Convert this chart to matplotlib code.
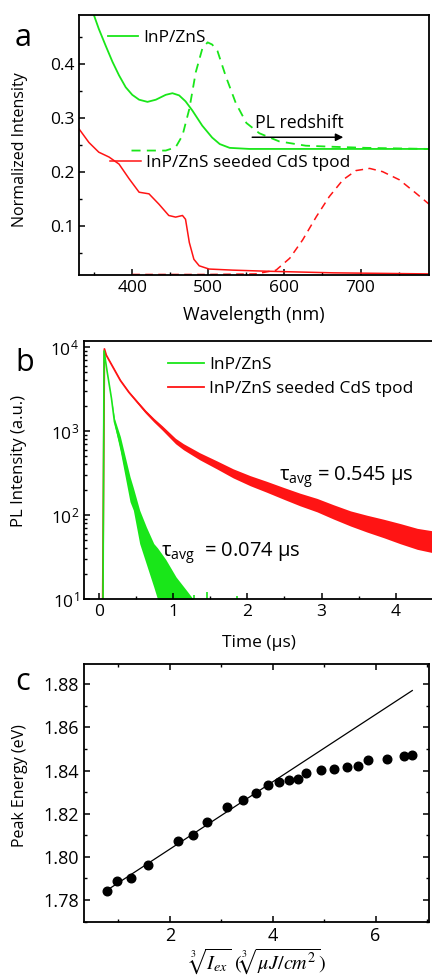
import numpy as np
import matplotlib
matplotlib.use('Agg')
import matplotlib.pyplot as plt
from matplotlib.ticker import MultipleLocator, LogLocator, NullFormatter, FormatStrFormatter
from matplotlib.lines import Line2D

plt.rcParams['font.family'] = ['Open Sans', 'DejaVu Sans']
plt.rcParams['axes.linewidth'] = 1.3
plt.rcParams['xtick.direction'] = 'in'
plt.rcParams['ytick.direction'] = 'in'

GREEN = '#19e619'
RED = '#ff1414'
MU = '\u03bc'

# ---- panel a: absorption (solid) and PL (dashed) ----
abs_g_wl = [349.7, 356, 365, 374, 382.6, 391.4, 400, 409, 420, 431, 444, 452.8, 461.6, 470, 479,
            492, 505, 515, 528, 554, 650, 790]
abs_g_y = [0.49, 0.465, 0.434, 0.404, 0.379, 0.357, 0.343, 0.334, 0.330, 0.334, 0.343, 0.346,
           0.342, 0.331, 0.314, 0.286, 0.264, 0.252, 0.245, 0.243, 0.243, 0.243]
pl_g_wl = [399, 444, 457, 466, 475, 483.5, 492, 499, 505, 512, 523, 536, 550, 567, 593, 628, 664, 707, 790]
pl_g_y = [0.240, 0.240, 0.246, 0.268, 0.317, 0.385, 0.428, 0.440, 0.436, 0.424, 0.377, 0.328,
          0.291, 0.272, 0.257, 0.249, 0.247, 0.245, 0.243]

abs_r_wl = [329, 343, 356, 369.5, 382.6, 395.8, 409, 422, 435, 448, 457, 466, 470, 475, 481, 488,
            501, 532, 576, 664, 790]
abs_r_y = [0.282, 0.255, 0.237, 0.228, 0.215, 0.188, 0.163, 0.160, 0.141, 0.120, 0.117, 0.120,
           0.113, 0.070, 0.039, 0.027, 0.021, 0.019, 0.017, 0.014, 0.012]
pl_r_wl = [400, 500, 562, 589, 607, 624, 642, 659, 677, 694, 712, 729, 751, 773, 790]
pl_r_y = [0.011, 0.011, 0.012, 0.019, 0.041, 0.075, 0.118, 0.155, 0.186, 0.203, 0.207, 0.201, 0.186, 0.161, 0.141]

# ---- panel b: PL decay, centre and spread of the noisy traces ----
red_t = [0.05, 0.075, 0.1, 0.179, 0.29, 0.404, 0.52, 0.629, 0.74, 0.853, 1.033, 1.14, 1.36, 1.59,
         1.81, 2.04, 2.26, 2.49, 2.71, 2.94, 3.16, 3.39, 3.61, 3.84, 4.06, 4.29, 4.5]
red_mid = [5, 9500, 8000, 6000, 4000, 2900, 2200, 1700, 1350, 1090, 760, 650, 500, 395, 313, 256,
           217, 181, 153, 131, 109, 91, 79, 69, 60, 52, 48]
red_spread = [0, 0, 0.004, 0.006, 0.008, 0.01, 0.014, 0.018, 0.022, 0.026, 0.032, 0.036, 0.042,
              0.048, 0.054, 0.06, 0.065, 0.07, 0.075, 0.08, 0.085, 0.09, 0.1, 0.11, 0.12, 0.125, 0.13]  # decades

green_t = [0.055, 0.07, 0.115, 0.17, 0.21, 0.29, 0.355, 0.42, 0.465, 0.55, 0.64, 0.74, 0.79, 0.9,
           1.04, 1.18, 1.27]
green_hi = [5, 9000, 4900, 2450, 1420, 859, 495, 286, 211, 114, 72, 45.7, 40.6, 29.7, 18.3, 12.7, 10]
green_lo = [5, 9000, 4900, 2450, 1180, 568, 286, 144, 114, 45.7, 26, 13.9, 10, 8, 8, 8, 8]
spike_t = [1.28, 1.455, 1.86]
spike_top = [11.2, 12, 11]

# ---- panel c: peak energy vs cube root of fluence ----
iex_cbrt = [0.774, 0.975, 1.248, 1.578, 2.149, 2.454, 2.713, 3.102, 3.42, 3.68, 3.907, 4.127,
            4.309, 4.484, 4.646, 4.938, 5.197, 5.437, 5.651, 5.859, 6.222, 6.553, 6.715]
peak_e = [1.7842, 1.7888, 1.7904, 1.7962, 1.8072, 1.8101, 1.8162, 1.8233, 1.8264, 1.8296, 1.8335,
          1.8346, 1.8358, 1.8360, 1.8387, 1.8403, 1.8409, 1.8417, 1.8420, 1.8449, 1.8452, 1.8468, 1.8474]
fit_x = [0.833, 6.715]
fit_y = [1.7854, 1.8771]

fig = plt.figure(figsize=(4.32, 9.76), dpi=100)
W, H = 432.0, 976.0

def box(l, t, r, b):
    return [l / W, 1 - b / H, (r - l) / W, (b - t) / H]

# panel a
ax1 = fig.add_axes(box(79, 15.3, 429, 275))
ax1.plot(abs_g_wl, abs_g_y, color=GREEN, lw=1.3)
ax1.plot(pl_g_wl, pl_g_y, color=GREEN, lw=1.3, dashes=(5, 3.5))
ax1.plot(abs_r_wl, abs_r_y, color=RED, lw=1.1)
ax1.plot(pl_r_wl, pl_r_y, color=RED, lw=1.1, dashes=(5, 3.5))
ax1.set_xlim(330, 790)
ax1.set_ylim(0.01, 0.49)
ax1.xaxis.set_major_locator(MultipleLocator(100))
ax1.xaxis.set_minor_locator(MultipleLocator(50))
ax1.yaxis.set_major_locator(MultipleLocator(0.1))
ax1.yaxis.set_minor_locator(MultipleLocator(0.05))
ax1.yaxis.set_major_formatter(FormatStrFormatter('%.1f'))
ax1.tick_params(labelsize=12.5, length=4, width=1.1)
ax1.tick_params(which='minor', length=2.5, width=1.0)
ax1.set_xlabel('Wavelength (nm)', fontsize=13, labelpad=7)
ax1.set_ylabel('Normalized Intensity', fontsize=11.5)
ax1.yaxis.set_label_coords(-0.146, 0.481)
lg = ax1.legend(handles=[Line2D([], [], color=GREEN, lw=1.3)], labels=['InP/ZnS'],
                loc='upper left', bbox_to_anchor=(0.083, 0.945), frameon=False, borderpad=0,
                borderaxespad=0, handlelength=1.75, handletextpad=0.25, fontsize=12.5)
ax1.add_artist(lg)
ax1.legend(handles=[Line2D([], [], color=RED, lw=1.1)], labels=['InP/ZnS seeded CdS tpod'],
           loc='upper left', bbox_to_anchor=(0.089, 0.462), frameon=False, borderpad=0,
           borderaxespad=0, handlelength=1.8, handletextpad=0.25, fontsize=12.5)
ax1.annotate('', xy=(681, 0.2646), xytext=(554, 0.2646),
             arrowprops=dict(arrowstyle='-|>', color='black', lw=1.1, mutation_scale=11))
ax1.text(619, 0.2906, 'PL redshift', fontsize=12.8, ha='center', va='center')
fig.text(23 / W, 1 - 38 / H, 'a', fontsize=22, ha='center', va='center')

# panel b
ax2 = fig.add_axes(box(84, 341, 434, 599))
rt = np.array(red_t)
rm = np.array(red_mid, dtype=float)
rs = 10 ** np.array(red_spread)
ax2.fill_between(rt, rm / rs, rm * rs, color=RED, lw=0)
ax2.plot(rt, rm, color=RED, lw=1.3)
gt = np.array(green_t)
ax2.fill_between(gt, green_lo, green_hi, color=GREEN, lw=0)
ax2.plot(gt, np.sqrt(np.array(green_lo) * np.array(green_hi)), color=GREEN, lw=1.2)
ax2.vlines(spike_t, 10, spike_top, color=GREEN, lw=1.2)
ax2.set_yscale('log')
ax2.set_xlim(-0.2, 4.515)
ax2.set_ylim(10, 1.18e4)
ax2.xaxis.set_major_locator(MultipleLocator(1))
ax2.xaxis.set_minor_locator(MultipleLocator(0.5))
ax2.yaxis.set_major_locator(LogLocator(base=10, numticks=10))
ax2.yaxis.set_minor_locator(LogLocator(base=10, subs=np.arange(2, 10), numticks=10))
ax2.yaxis.set_minor_formatter(NullFormatter())
ax2.tick_params(labelsize=12.5, length=4, width=1.1)
ax2.tick_params(which='minor', length=2.5, width=1.0)
ax2.set_xlabel('Time (' + MU + 's)', fontsize=12.5, labelpad=11)
ax2.set_ylabel('PL Intensity (a.u.)', fontsize=12)
ax2.yaxis.set_label_coords(-0.162, 0.533)
ax2.legend(handles=[Line2D([], [], color=GREEN, lw=1.3), Line2D([], [], color=RED, lw=1.3)],
           labels=['InP/ZnS', 'InP/ZnS seeded CdS tpod'], loc='upper left',
           bbox_to_anchor=(0.241, 0.94), frameon=False, borderpad=0, borderaxespad=0,
           handlelength=2.05, handletextpad=0.3, labelspacing=0.45, fontsize=12.5)
ax2.text(2.43, 286, '$\\mathregular{\u03c4_{avg}}$ = 0.545 ' + MU + 's', fontsize=14.5,
         ha='left', va='center')
ax2.text(0.835, 35, '$\\mathregular{\u03c4_{avg}}$  = 0.074 ' + MU + 's', fontsize=14.5,
         ha='left', va='center')
fig.text(25 / W, 1 - 363 / H, 'b', fontsize=22, ha='center', va='center')

# panel c
ax3 = fig.add_axes(box(84, 664, 429, 922))
ax3.plot(fit_x, fit_y, color='black', lw=0.9)
ax3.plot(iex_cbrt, peak_e, 'o', color='black', ms=6.2)
ax3.set_xlim(0.33, 7.04)
ax3.set_ylim(1.7698, 1.8894)
ax3.xaxis.set_major_locator(MultipleLocator(2))
ax3.xaxis.set_minor_locator(MultipleLocator(1))
ax3.yaxis.set_major_locator(MultipleLocator(0.02))
ax3.yaxis.set_minor_locator(MultipleLocator(0.01))
ax3.yaxis.set_major_formatter(FormatStrFormatter('%.2f'))
ax3.tick_params(labelsize=13, length=4, width=1.1, top=True, right=True)
ax3.tick_params(which='minor', length=2.5, width=1.0, top=True, right=True)
ax3.set_xlabel(r'$\sqrt[3]{I_{ex}}\ (\sqrt[3]{\mu J/cm^2})$', fontsize=14.5, labelpad=1,
               math_fontfamily='stix')
ax3.set_ylabel('Peak Energy (eV)', fontsize=11.5)
ax3.yaxis.set_label_coords(-0.162, 0.527)
fig.text(23 / W, 1 - 682 / H, 'c', fontsize=22, ha='center', va='center')

fig.savefig('out.png', dpi=100)
